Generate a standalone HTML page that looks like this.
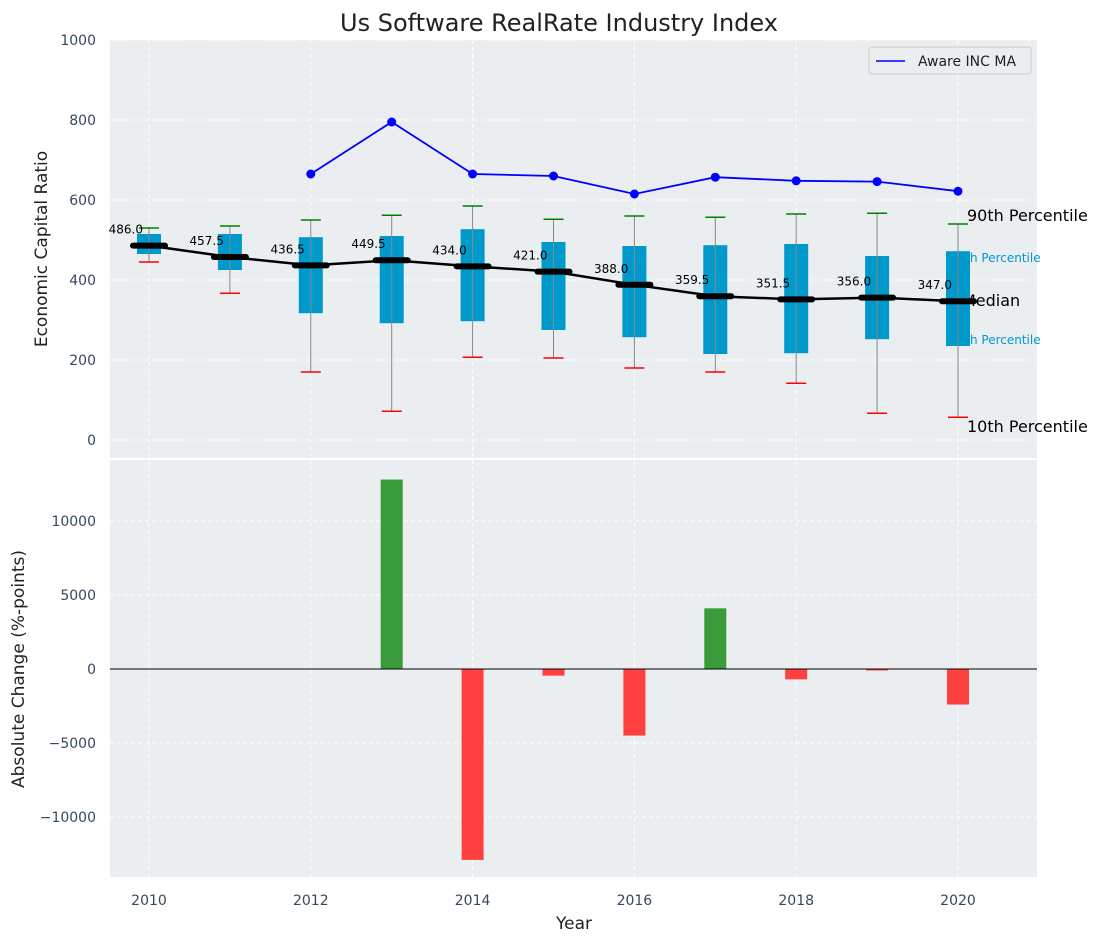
<!DOCTYPE html>
<html><head><meta charset="utf-8"><style>
body{margin:0;background:#fff;font-family:"Liberation Sans","DejaVu Sans",sans-serif;}
svg text{font-family:"DejaVu Sans","Liberation Sans",sans-serif;}
</style></head><body>
<svg id="c" width="1102" height="942" xmlns="http://www.w3.org/2000/svg"></svg>
<script>
const years=[2010,2011,2012,2013,2014,2015,2016,2017,2018,2019,2020];
const medians=[486.0,457.5,436.5,449.5,434.0,421.0,388.0,359.5,351.5,356.0,347.0];
const q1=[465,425,317,292,297,275,257,215,217,252,235];
const q3=[515,515,507,510,527,495,485,487,490,460,472];
const p10=[445,367,170,72,207,205,180,170,142,67,57];
const p90=[530,535,550,562,585,552,560,557,565,567,540];
const maYears=[2012,2013,2014,2015,2016,2017,2018,2019,2020];
const maValues=[665,795,665,660,615,657,648,646,622];
const changes=[0,0,0,12800,-12900,-450,-4500,4100,-700,-100,-2400];
const topTicks=[0,200,400,600,800,1000];
const botTicks=[-10000,-5000,0,5000,10000];
const xTicks=[2010,2012,2014,2016,2018,2020];

const NS="http://www.w3.org/2000/svg";
const svg=document.getElementById('c');
function el(t,a,p){const e=document.createElementNS(NS,t);for(const k in a)e.setAttribute(k,a[k]);(p||svg).appendChild(e);return e;}
const L=110,R=1037,T1=40,B1=458,T2=460,B2=877;
const x=v=>149+(v-2010)*80.9;
const y1=v=>440-v*0.4;
const y2=v=>669-v*0.0148;

let e;
e=el('rect',{x:L,y:T1,width:R-L,height:B1-T1,fill:'#eaeef0'});


e=el('rect',{x:L,y:T2,width:R-L,height:B2-T2,fill:'#eaeef0'});



xTicks.forEach(t=>{
 [[T1,B1],[T2,B2]].forEach(r=>{el('line',{x1:x(t),x2:x(t),y1:r[0],y2:r[1],stroke:'#fff','stroke-dasharray':'4,3','stroke-width':1});});
 e=el('text',{x:x(t),y:905,'text-anchor':'middle','font-size':14,fill:'#34495e'});e.textContent=t;
 
 
});
topTicks.forEach(t=>{
 el('line',{x1:L,x2:R,y1:y1(t),y2:y1(t),stroke:'#fff','stroke-dasharray':'4,3'});
 e=el('text',{x:96,y:y1(t)+5,'text-anchor':'end','font-size':14,fill:'#34495e'});e.textContent=t;
 
 
});
botTicks.forEach(t=>{
 el('line',{x1:L,x2:R,y1:y2(t),y2:y2(t),stroke:'#fff','stroke-dasharray':'4,3'});
 e=el('text',{x:96,y:y2(t)+5,'text-anchor':'end','font-size':14,fill:'#34495e'});e.textContent=t<0?'\u2212'+(-t):t;
 
 
});

[['90th Percentile',221,16,'#000',967],['75th Percentile',262,12,'#0099cc',950],['Median',306,16,'#000',962],['25th Percentile',344,12,'#0099cc',950],['10th Percentile',432,16,'#000',967]].forEach(a=>{
 e=el('text',{x:a[4],y:a[1],'font-size':a[2],fill:a[3]});e.textContent=a[0];
 
 
});

years.forEach((yr,i)=>{
 const cx=x(yr);
 e=el('rect',{x:cx-12,y:y1(q3[i]),width:24,height:y1(q1[i])-y1(q3[i]),fill:'#0099cc'});
 
 
 e=el('line',{x1:cx,x2:cx,y1:y1(p10[i]),y2:y1(p90[i]),stroke:'#888','stroke-width':1});
 
 
 e=el('line',{x1:cx-10,x2:cx+10,y1:y1(p90[i]),y2:y1(p90[i]),stroke:'green','stroke-width':1.5});
 
 
 e=el('line',{x1:cx-10,x2:cx+10,y1:y1(p10[i]),y2:y1(p10[i]),stroke:'red','stroke-width':1.5});
 
 
});
e=el('polyline',{points:years.map((yr,i)=>x(yr)+','+y1(medians[i])).join(' '),fill:'none',stroke:'#000','stroke-width':2.5});


years.forEach((yr,i)=>{
 e=el('line',{x1:x(yr)-16,x2:x(yr)+16,y1:y1(medians[i]),y2:y1(medians[i]),stroke:'#000','stroke-width':6,'stroke-linecap':'round'});
 
 
 e=el('text',{x:x(yr)-6,y:y1(medians[i])-12,'text-anchor':'end','font-size':12,fill:'#000'});e.textContent=medians[i].toFixed(1);
 
 
});
e=el('polyline',{points:maYears.map((yr,i)=>x(yr)+','+y1(maValues[i])).join(' '),fill:'none',stroke:'blue','stroke-width':1.8});


maYears.forEach((yr,i)=>{
 e=el('circle',{cx:x(yr),cy:y1(maValues[i]),r:4.5,fill:'blue'});
 
 
});

years.forEach((yr,i)=>{
 const v=changes[i];if(v===0)return;
 const a=y2(Math.max(v,0)),b=y2(Math.min(v,0));
 e=el('rect',{x:x(yr)-11,y:a,width:22,height:b-a,fill:v>0?'#3a9b3a':'#ff4040'});
 
 
});
el('line',{x1:L,x2:R,y1:y2(0),y2:y2(0),stroke:'#000','stroke-width':1});

e=el('g',{});


el('rect',{x:869,y:47,width:162,height:27,fill:'#eaeef0',stroke:'#ccc',rx:3},e);
el('line',{x1:876,x2:905,y1:61,y2:61,stroke:'blue','stroke-width':1.5},e);
let lt=el('text',{x:918,y:66,'font-size':14,fill:'#222'},e);lt.textContent='Aware INC MA';

e=el('text',{x:559,y:31,'text-anchor':'middle','font-size':24,fill:'#222'});e.textContent='Us Software RealRate Industry Index';


e=el('text',{x:574,y:929,'text-anchor':'middle','font-size':17,fill:'#222'});e.textContent='Year';


e=el('text',{x:47,y:249,'text-anchor':'middle','font-size':17,fill:'#222',transform:'rotate(-90 47 249)'});e.textContent='Economic Capital Ratio';


e=el('text',{x:24,y:669,'text-anchor':'middle','font-size':17,fill:'#222',transform:'rotate(-90 24 669)'});e.textContent='Absolute Change (%-points)';


</script>
</body></html>
